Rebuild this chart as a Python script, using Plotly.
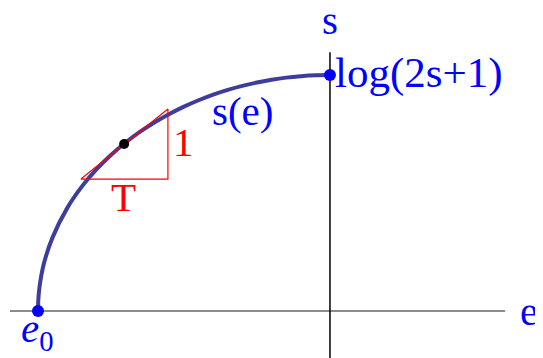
import plotly.graph_objects as go

# curve s(e) (e0 = 0, right end = 1)
curve_e = [0.0, 0.001, 0.005, 0.02, 0.05, 0.1, 0.15, 0.2, 0.25, 0.3, 0.35, 0.4, 0.45, 0.5,
           0.55, 0.6, 0.65, 0.7, 0.75, 0.8, 0.85, 0.9, 0.95, 1.0]
curve_s = [0.0, 0.045, 0.10, 0.20, 0.312, 0.436, 0.527, 0.60, 0.661, 0.714, 0.760, 0.80, 0.835, 0.866,
           0.893, 0.917, 0.937, 0.954, 0.968, 0.98, 0.989, 0.995, 0.999, 1.0]

# end points of the curve
end_e = [0.0, 1.0]
end_s = [0.0, 1.0]

# tangent point and slope triangle
pt_e = [0.295]
pt_s = [0.708]
tri_e = [0.147, 0.445, 0.445, 0.147]
tri_s = [0.559, 0.856, 0.559, 0.559]

# axes extents
h_axis_e = [-0.096, 1.60]
v_axis_s = [-0.25, 1.097]

BLUE = "#0000ff"
RED = "#ff0000"
font = "Liberation Serif"

fig = go.Figure()

fig.add_shape(type="line", x0=h_axis_e[0], x1=h_axis_e[1], y0=0, y1=0,
              line=dict(color="#666666", width=1.5), layer="below")
fig.add_shape(type="line", x0=1.0, x1=1.0, y0=v_axis_s[0], y1=v_axis_s[1],
              line=dict(color="black", width=1.5), layer="below")

fig.add_trace(go.Scatter(x=curve_e, y=curve_s, mode="lines",
                         line=dict(color="#3d3d9e", width=4, shape="spline", smoothing=0.6)))
fig.add_trace(go.Scatter(x=tri_e, y=tri_s, mode="lines",
                         line=dict(color=RED, width=1.2)))
fig.add_trace(go.Scatter(x=pt_e, y=pt_s, mode="markers",
                         marker=dict(color="black", size=10)))
fig.add_trace(go.Scatter(x=end_e, y=end_s, mode="markers",
                         marker=dict(color=BLUE, size=12)))

def label(x, y, text, color, xanchor="center", yanchor="middle", size=41):
    fig.add_annotation(x=x, y=y, text=text, showarrow=False, xanchor=xanchor, yanchor=yanchor,
                       font=dict(family=font, size=size, color=color))

label(1.0, 1.232, "s", BLUE)
label(1.682, 0.0, "e", BLUE)
label(0.0, -0.085, "<i>e</i><sub>0</sub>", BLUE)
label(1.01, 1.01, "log(2s+1)", BLUE, xanchor="left", size=43)
label(0.702, 0.847, "s(e)", BLUE)
label(0.497, 0.715, "1", RED)
label(0.292, 0.485, "T", RED)

# page body has an 8px margin, so ranges are shifted to keep the drawing in view
fig.update_layout(
    width=543, height=358,
    margin=dict(l=0, r=0, t=0, b=0),
    paper_bgcolor="white", plot_bgcolor="white",
    showlegend=False,
    xaxis=dict(range=[-0.1027, 1.757], visible=False, fixedrange=True),
    yaxis=dict(range=[-0.233, 1.284], visible=False, fixedrange=True),
)

fig.write_html("out.html")
